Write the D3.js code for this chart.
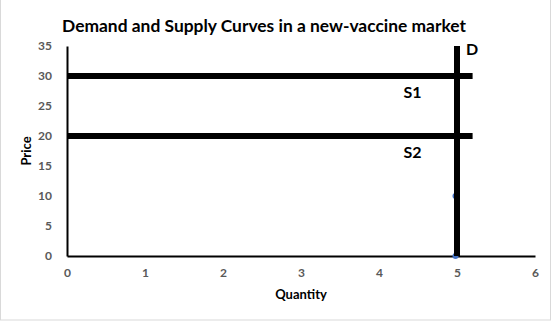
<!DOCTYPE html>
<html>
<head>
<meta charset="utf-8">
<script src="https://cdn.jsdelivr.net/npm/d3@7"></script>
<style>
  body { margin: 0; background: #fff; }
  svg { display: block; }
</style>
</head>
<body>
<div id="chart"></div>
<script>
// chart data
var xTicks = [0, 1, 2, 3, 4, 5, 6];
var yTicks = [0, 5, 10, 15, 20, 25, 30, 35];
var s1Qty = [0, 5.2], s1Price = [30, 30];
var s2Qty = [0, 5.2], s2Price = [20, 20];
var dQty = [5, 5], dPrice = [0, 35];
var pointQty = [5, 5], pointPrice = [10, 0];

var width = 557, height = 325;
var margin = {top: 46, right: 21, bottom: 69, left: 67};

var svg = d3.select('#chart').append('svg')
    .attr('width', width)
    .attr('height', height);

// outer frame
svg.append('rect')
    .attr('x', 0.5).attr('y', -1)
    .attr('width', 550).attr('height', 321)
    .attr('fill', '#fff')
    .attr('stroke', '#d9d9d9');

var x = d3.scaleLinear().domain([0, 6]).range([margin.left, width - margin.right - 1]);
var y = d3.scaleLinear().domain([0, 35]).range([height - margin.bottom, margin.top]);

var font = 'Lato, sans-serif';

// axes
var xAxis = svg.append('g')
    .attr('transform', 'translate(0,' + y(0) + ')')
    .call(d3.axisBottom(x).tickValues(xTicks).tickFormat(d3.format('d')).tickSize(0).tickPadding(12));
xAxis.select('.domain').attr('stroke', '#000').attr('stroke-width', 2);
xAxis.selectAll('text').attr('fill', '#595959').style('font', 'bold 12px ' + font);

var yAxis = svg.append('g')
    .attr('transform', 'translate(' + x(0) + ',0)')
    .call(d3.axisLeft(y).tickValues(yTicks).tickFormat(d3.format('d')).tickSize(0).tickPadding(15));
yAxis.select('.domain').attr('stroke', '#000').attr('stroke-width', 2);
yAxis.selectAll('text').attr('fill', '#595959').style('font', 'bold 12px ' + font);

var line = d3.line()
    .x(function (d) { return x(d[0]); })
    .y(function (d) { return y(d[1]); });

// points under the demand line
svg.selectAll('.pt')
    .data(d3.zip(pointQty, pointPrice))
    .enter().append('circle')
    .attr('class', 'pt')
    .attr('cx', function (d) { return x(d[0]) - 1.5; })
    .attr('cy', function (d) { return y(d[1]); })
    .attr('r', 3)
    .attr('fill', '#4472c4');

[[s1Qty, s1Price], [s2Qty, s2Price], [dQty, dPrice]].forEach(function (s) {
    svg.append('path')
        .attr('d', line(d3.zip(s[0], s[1])))
        .attr('fill', 'none')
        .attr('stroke', '#000')
        .attr('stroke-width', 6);
});

// labels
function label(txt, px, py, size, anchor) {
    return svg.append('text')
        .attr('x', px).attr('y', py)
        .attr('text-anchor', anchor || 'middle')
        .style('font', 'bold ' + size + 'px ' + font)
        .attr('fill', '#000')
        .text(txt);
}
label('S1', x(4.43), y(30) + 22, 16);
label('S2', x(4.43), y(20) + 22, 16);
label('D', x(5) + 9, y(35) + 9, 16, 'start');

label('Demand and Supply Curves in a new-vaccine market', 264, 32, 17.4);
label('Quantity', x(3), 299, 13);
svg.append('text')
    .attr('transform', 'translate(31,151) rotate(-90)')
    .attr('text-anchor', 'middle')
    .style('font', 'bold 13px ' + font)
    .text('Price');
</script>
</body>
</html>
